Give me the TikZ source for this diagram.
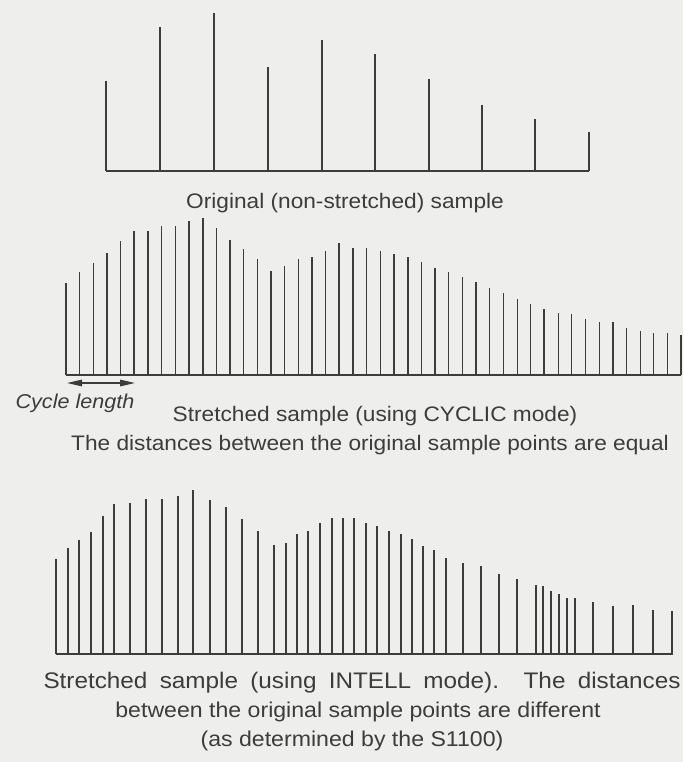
\documentclass[tikz,border=0pt]{standalone}
\usepackage{fontspec}
\setmainfont[FakeStretch=1.08]{Liberation Sans}
\usetikzlibrary{arrows.meta}
\definecolor{paper}{RGB}{238,238,236}
\definecolor{ink}{RGB}{60,60,60}

\begin{document}
\begin{tikzpicture}[x=1pt, y=-1pt,
  spike/.style={draw=ink, line width=1.2pt},
  heavy/.style={draw=ink, line width=2pt},
  base/.style={draw=ink, line width=2pt},
  lbl/.style={text=ink, font=\fontsize{21}{25}\selectfont, inner sep=0pt, anchor=base},
  arr/.style={{Triangle[length=15pt,width=6.5pt]}-{Triangle[length=15pt,width=6.5pt]}, draw=ink, line width=1.4pt}
]
  \fill[paper] (0,0) rectangle (683,762);
  \useasboundingbox (0,0) rectangle (683,762);

  % original sample
  \foreach \x/\y in {106/81, 160/27, 214/13, 268/67, 322/40, 375/54, 429/79, 482/105, 535/119, 589/132}
    \draw[heavy] (\x,171) -- (\x,\y);
  \draw[base] (106,171) -- (589,171);
  \node[lbl] (orig) at (345,208) {Original (non-stretched) sample};

  % cyclic stretch
  \foreach \y [count=\i from 0] in {283,272,263,253,241,231,231,226,226,221,218,228,240,249,259,271,266,259,257,251,
      243,248,248,251,254,257,262,268,272,277,282,288,293,299,304,309,313,314,319,322,322,328,331,333,333,335} {
    \pgfmathsetmacro\x{66+\i*13.67}
    \pgfmathtruncatemacro\m{mod(\i,5)}
    \ifnum\m=0 \draw[heavy] (\x,375) -- (\x,\y); \else \draw[spike] (\x,375) -- (\x,\y); \fi
  }
  \draw[base] (66,375) -- (681,375);
  \coordinate (cycA) at (67,383);
  \coordinate (cycB) at (135,383);
  \draw[arr] (cycA) -- (cycB);
  \node[lbl, font=\fontsize{20}{24}\selectfont\itshape] (cyclen) at (75,408) {Cycle length};
  \node[lbl] (cyclic) at (375,421) {Stretched sample (using CYCLIC mode)};
  \node[lbl] (equal) at (370,450) {The distances between the original sample points are equal};

  % intelligent stretch
  \foreach \x/\y [count=\i from 0] in {56/559, 68/548, 79/540, 91/532, 103/516, 114/504, 130/503, 146/499, 162/499, 178/496,
      193/490, 210/500, 226/507, 242/519, 258/531, 274/545, 286/543, 297/534, 308/531, 320/523,
      332/518, 343/518, 354/518, 366/523, 377/526, 389/531, 401/534, 412/539, 423/546, 434/550,
      446/558, 463/563, 481/566, 499/574, 517/579, 536/585, 543/586, 551/591, 559/594, 567/598,
      575/598, 593/602, 613/606, 633/605, 653/610, 672/611} {
    \pgfmathtruncatemacro\m{mod(\i,5)}
    \ifnum\m=0 \draw[heavy] (\x,654) -- (\x,\y); \else \draw[spike] (\x,654) -- (\x,\y); \fi
  }
  \draw[base] (56,654) -- (673,654);
  \node[lbl, font=\fontsize{22.5}{27}\selectfont] (intell) at (362,688)
    {\makebox[637pt][s]{Stretched sample (using INTELL mode).\ \ The distances}};
  \node[lbl, font=\fontsize{21.4}{26}\selectfont] (diff) at (358,717) {between the original sample points are different};
  \node[lbl, font=\fontsize{21.4}{26}\selectfont] (s1100) at (352,746) {(as determined by the S1100)};
\end{tikzpicture}
\end{document}
